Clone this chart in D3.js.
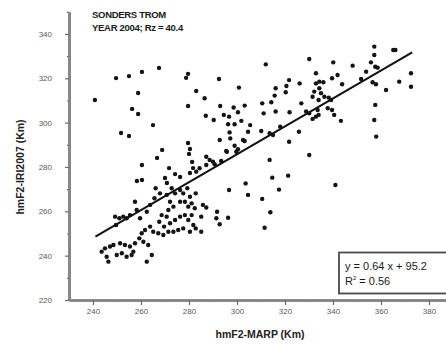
<!DOCTYPE html>
<html>
<head>
<meta charset="utf-8">
<script src="https://cdn.jsdelivr.net/npm/d3@7"></script>
<style>
  html, body { margin: 0; padding: 0; background: #fff; }
  svg { display: block; font-family: "Liberation Sans", Arial, sans-serif; }
  .axis .domain { stroke: #858585; stroke-width: 2.6; }
  .axis line { stroke: #6a6a6a; stroke-width: 1.2; }
  .axis text { fill: #5a5a5a; font-size: 8px; }
</style>
</head>
<body>
<svg id="chart" width="446" height="345"></svg>
<script>
// hmF2-MARP (Km) of each point
const marpKm = [
  240.8, 249.6, 255.0, 260.4, 267.5, 279.6, 278.8, 258.8, 256.3, 258.8,
  279.6, 265.0, 251.7, 255.0, 268.8, 266.7, 260.4, 271.7, 258.3, 260.4,
  270.0, 270.8, 274.2, 276.3, 279.6, 280.4, 280.0, 281.3, 281.7, 280.4,
  266.1, 267.9, 265.6, 270.7, 272.8, 274.2, 276.3, 277.6, 279.3, 280.4,
  272.1, 273.5, 276.3, 278.3, 279.7, 281.1, 271.4, 268.6, 270.7, 267.6,
  269.6, 272.1, 274.2, 276.3, 278.3, 279.7, 281.1, 281.8, 280.4, 277.6,
  275.5, 273.5, 271.4, 269.3, 267.2, 265.1, 263.8, 261.7, 260.3, 259.3,
  261.0, 263.0, 264.5, 262.4, 257.5, 255.4, 253.3, 251.3, 248.5, 247.1,
  245.0, 243.6, 245.7, 246.4, 249.9, 252.0, 254.0, 256.1, 256.8, 258.2,
  257.5, 255.4, 252.6, 251.0, 249.2, 249.6, 254.0, 263.8, 262.4, 259.6,
  312.0, 292.5, 283.0, 300.8, 321.7, 320.6, 326.1, 316.1, 315.7, 320.3,
  286.5, 310.5, 314.3, 293.0, 298.6, 303.2, 311.1, 316.1, 321.9, 326.8,
  287.0, 290.3, 294.5, 296.7, 300.4, 301.8, 296.3, 299.0, 305.5, 304.6,
  296.9, 310.1, 313.6, 318.0, 325.8, 292.8, 297.2, 303.2, 315.0, 321.7,
  295.8, 299.7, 293.4, 290.7, 288.6, 287.2, 284.4, 283.0, 313.6, 321.3,
  314.7, 317.5, 303.6, 296.7, 304.6, 310.5, 313.9, 311.5, 285.8, 287.2,
  285.1, 291.7, 291.4, 292.8, 296.3, 285.1, 282.8, 282.4, 282.8, 287.2,
  290.0, 295.5, 299.0, 302.5, 300.4,
  330.1, 340.1, 348.2, 357.2, 357.2, 366.0, 365.1, 355.8, 357.6, 358.6,
  332.9, 353.8, 351.7, 341.9, 339.6, 343.8, 334.3, 336.0, 332.9, 334.3,
  332.2, 335.0, 331.5, 334.0, 336.4, 338.2, 339.2, 356.5, 357.9, 362.1,
  367.6, 372.5, 372.5, 357.6, 357.2, 358.0, 328.8, 330.1, 333.6, 334.0,
  331.5, 332.9, 337.8, 339.6, 340.5, 343.3, 330.1, 341.0
];

// hmF2-IRI2007 (Km) of each point
const iriKm = [
  310.2, 320.1, 321.0, 322.9, 324.7, 322.0, 320.2, 313.4, 306.2, 303.9,
  307.5, 298.9, 295.3, 294.0, 287.7, 284.1, 280.9, 279.5, 273.7, 274.1,
  275.0, 272.8, 276.8, 275.5, 290.8, 288.1, 285.9, 282.3, 279.5, 277.3,
  270.4, 268.1, 265.9, 267.4, 270.4, 268.1, 269.6, 268.1, 270.4, 266.6,
  264.3, 262.1, 264.3, 264.3, 262.1, 263.6, 260.6, 258.3, 257.6, 255.3,
  253.1, 254.6, 256.1, 257.6, 258.3, 256.1, 258.3, 253.8, 250.8, 252.3,
  251.6, 250.8, 250.8, 249.3, 250.1, 250.8, 253.1, 251.6, 250.1, 247.8,
  246.3, 244.8, 240.3, 237.3, 245.6, 244.1, 244.8, 245.6, 244.8, 244.1,
  243.3, 241.8, 239.5, 237.3, 240.3, 241.1, 239.5, 240.3, 241.8, 260.6,
  264.3, 258.3, 257.6, 256.9, 257.6, 253.8, 256.9, 262.9, 259.8, 256.9,
  326.3, 319.7, 314.3, 315.8, 319.2, 316.5, 317.7, 315.5, 312.2, 313.7,
  311.0, 308.7, 309.2, 307.5, 306.8, 307.7, 304.2, 305.0, 304.7, 308.7,
  303.1, 301.2, 303.5, 302.7, 304.7, 300.8, 299.3, 299.3, 298.9, 295.9,
  295.6, 296.2, 295.2, 298.2, 295.9, 292.2, 292.9, 291.7, 294.4, 291.4,
  286.9, 286.9, 282.7, 281.2, 283.2, 280.9, 279.4, 277.9, 283.2, 276.1,
  275.2, 269.8, 272.6, 269.6, 267.4, 265.6, 259.6, 252.6, 262.9, 261.7,
  257.6, 259.8, 256.9, 254.2, 257.1, 250.8, 268.1, 261.4, 252.3, 284.6,
  282.4, 287.2, 289.6, 292.2, 288.0,
  328.7, 327.2, 325.7, 334.3, 330.5, 332.8, 332.8, 327.2, 325.2, 324.8,
  322.3, 323.0, 319.7, 321.5, 320.0, 317.3, 318.5, 318.2, 317.7, 315.5,
  314.0, 313.3, 311.7, 310.2, 311.7, 311.3, 310.2, 318.2, 317.3, 314.7,
  318.5, 322.3, 316.2, 308.0, 301.2, 293.7, 305.0, 304.2, 305.7, 303.5,
  301.7, 302.7, 306.5, 305.7, 303.5, 300.8, 285.4, 271.9
];

// fitted line as drawn, two end points
const trendX = [241, 373];
const trendY = [248.6, 331.7];

const xMajorTicks = [240, 260, 280, 300, 320, 340, 360, 380];
const xMinorTicks = [250, 270, 290, 310, 330, 350, 370, 390];
const yMajorTicks = [220, 240, 260, 280, 300, 320, 340];
const yMinorTicks = [230, 250, 270, 290, 310, 330, 350];

const titleLines = ['SONDERS TROM', 'YEAR 2004; Rz = 40.4'];

const svg = d3.select('#chart');

const x = d3.scaleLinear().domain([230, 390]).range([69, 453]);
const y = d3.scaleLinear().domain([220, 350]).range([300, 11.8]);

//
// AXES
//

svg.append('g')
  .attr('class', 'axis')
  .attr('transform', 'translate(0,300)')
  .call(d3.axisBottom(x).tickValues(xMinorTicks).tickSize(2).tickSizeOuter(0).tickFormat(() => ''));

svg.append('g')
  .attr('class', 'axis')
  .attr('transform', 'translate(69,0)')
  .call(d3.axisLeft(y).tickValues(yMinorTicks).tickSize(2).tickSizeOuter(0).tickFormat(() => ''));

svg.append('g')
  .attr('class', 'axis')
  .attr('transform', 'translate(0,300)')
  .call(d3.axisBottom(x).tickValues(xMajorTicks).tickSize(5).tickPadding(3).tickSizeOuter(0));

svg.append('g')
  .attr('class', 'axis')
  .attr('transform', 'translate(69,0)')
  .call(d3.axisLeft(y).tickValues(yMajorTicks).tickSize(4).tickPadding(13).tickSizeOuter(0));

//
// POINTS
//

svg.append('g')
  .selectAll('circle')
  .data(marpKm)
  .join('circle')
  .attr('cx', (d) => x(d))
  .attr('cy', (d, i) => y(iriKm[i]))
  .attr('r', 2.2)
  .attr('fill', '#141414');

//
// FIT LINE
//

svg.append('path')
  .datum(trendX)
  .attr('fill', 'none')
  .attr('stroke', '#111')
  .attr('stroke-width', 2)
  .attr('d', d3.line().x((d) => x(d)).y((d, i) => y(trendY[i])));

//
// EQUATION BOX
//

svg.append('rect')
  .attr('x', 339)
  .attr('y', 252.5)
  .attr('width', 120)
  .attr('height', 41)
  .attr('fill', '#fff')
  .attr('stroke', '#4a4a4a')
  .attr('stroke-width', 1.8);

svg.append('text')
  .attr('x', 345)
  .attr('y', 270)
  .attr('font-size', 11)
  .attr('fill', '#1a1a1a')
  .text('y = 0.64 x + 95.2');

const r2 = svg.append('text')
  .attr('x', 345)
  .attr('y', 285)
  .attr('font-size', 11)
  .attr('fill', '#1a1a1a');
r2.append('tspan').text('R');
r2.append('tspan').attr('font-size', 6).attr('dy', -5).text('2');
r2.append('tspan').attr('dy', 5).text(' = 0.56');

//
// TITLES
//

svg.append('g')
  .selectAll('text')
  .data(titleLines)
  .join('text')
  .attr('x', 92)
  .attr('y', (d, i) => 18 + i * 13)
  .attr('font-size', 9.5)
  .attr('font-weight', 'bold')
  .attr('letter-spacing', -0.3)
  .attr('fill', '#1a1a1a')
  .text((d) => d);

svg.append('text')
  .attr('transform', 'translate(24,167) rotate(-90)')
  .attr('text-anchor', 'middle')
  .attr('font-size', 10.5)
  .attr('font-weight', 'bold')
  .attr('fill', '#222')
  .text('hmF2-IRI2007 (Km)');

svg.append('text')
  .attr('x', 260)
  .attr('y', 338)
  .attr('text-anchor', 'middle')
  .attr('font-size', 10.5)
  .attr('font-weight', 'bold')
  .attr('fill', '#222')
  .text('hmF2-MARP (Km)');
</script>
</body>
</html>
